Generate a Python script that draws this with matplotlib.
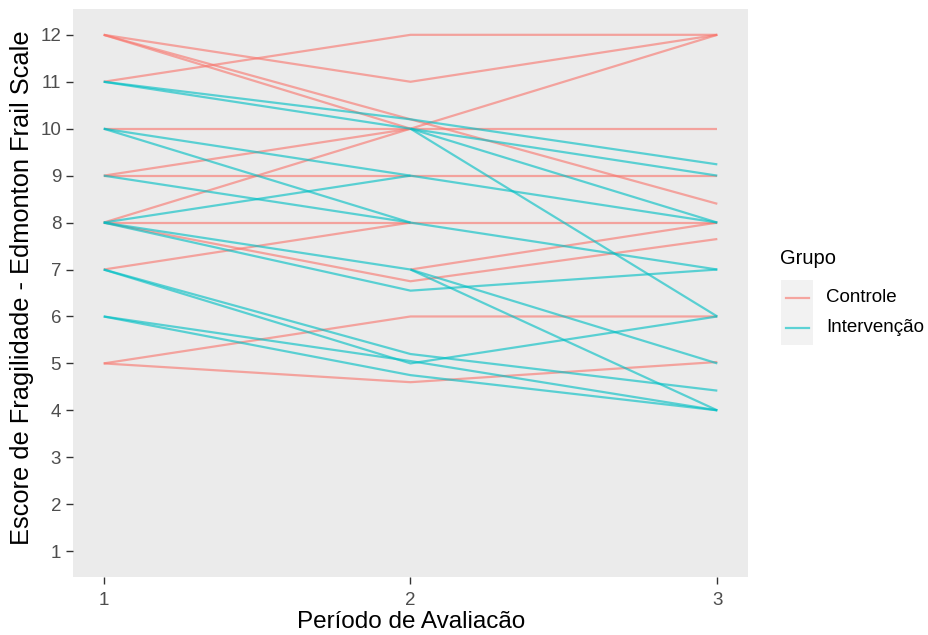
import numpy as np
import matplotlib
matplotlib.use("Agg")
import matplotlib.pyplot as plt
from matplotlib.lines import Line2D
from matplotlib.patches import Rectangle

plt.rcParams['font.family'] = ['Liberation Sans', 'DejaVu Sans']

periods = [1, 2, 3]
nan = np.nan

# Controle subjects: scores at periods 1, 2, 3 (nan = missing)
controle_p1 = [12, 12, 12, 11, 10, 9, 9, 8, 8, 8, 7, nan, 5, 5]
controle_p2 = [11, 10.2, 10.0, 12, 10, 9, 10, 10, 8, 6.75, 8, 7, 6, 4.6]
controle_p3 = [12, 8.4, 12, 12, 10, 9, nan, nan, 8, 7.65, nan, 8, 6, 5.03]

# Intervenção subjects
interv_p1 = [11, 11, 10, 10, 9, 8, nan, nan, 8, 8, 7, 7, 6, 6, nan]
interv_p2 = [10.2, 10.0, 9, 8, 8, 9, 10, 10, 7, 6.55, 5.2, 5.0, 5.05, 4.75, 7]
interv_p3 = [9.24, 9.0, 8, 7, nan, nan, 8, 6, 4, 7, 4.42, 6, 4, 4, 5]

groups = ["Controle", "Intervenção"]
colors = {"Controle": "#F8766D", "Intervenção": "#00BFC4"}
yticks = list(range(1, 13))
xticks = [1, 2, 3]

W, H = 929, 635
fig = plt.figure(figsize=(W/100, H/100), dpi=100)
ax = fig.add_axes([73/W, 1-577/H, (748-73)/W, (577-9)/H])
ax.set_facecolor("#EBEBEB")

data = {
    "Controle": (controle_p1, controle_p2, controle_p3),
    "Intervenção": (interv_p1, interv_p2, interv_p3),
}
for g in groups:
    p1, p2, p3 = data[g]
    for a, b, c in zip(p1, p2, p3):
        ax.plot(periods, [a, b, c], color=colors[g], alpha=0.62, lw=1.6,
                solid_capstyle="butt")

ax.set_xlim(0.9, 3.1)
ax.set_ylim(0.45, 12.55)
ax.set_xticks(xticks)
ax.set_yticks(yticks)
ax.tick_params(axis="both", colors="#333333", labelcolor="#4D4D4D",
               labelsize=13.5, length=5, width=1)
ax.tick_params(axis="x", pad=6)
for s in ax.spines.values():
    s.set_visible(False)

fig.text(411/W, 1-622/H, "Período de Avaliacão", fontsize=17.5,
         color="black", ha="center", va="center")
fig.text(22/W, 1-288/H, "Escore de Fragilidade - Edmonton Frail Scale",
         fontsize=18.3, color="black", ha="center", va="center",
         rotation=90)

# legend drawn by hand in figure pixel positions
fig.text(780/W, 1-258/H, "Grupo", fontsize=14.5, color="black",
         ha="left", va="center")
fig.patches.append(Rectangle((781/W, 1-345/H), 32/W, 65/H,
                             transform=fig.transFigure, facecolor="#F2F2F2",
                             edgecolor="none"))
for i, g in enumerate(groups):
    yy = 1 - (298 + 30*i)/H
    fig.lines.append(Line2D([786/W, 809/W], [yy, yy], transform=fig.transFigure,
                            color=colors[g], alpha=0.62, lw=1.6))
    fig.text(826/W, yy, g, fontsize=13.5, color="black", ha="left", va="center")

fig.savefig("out.png", dpi=100)
